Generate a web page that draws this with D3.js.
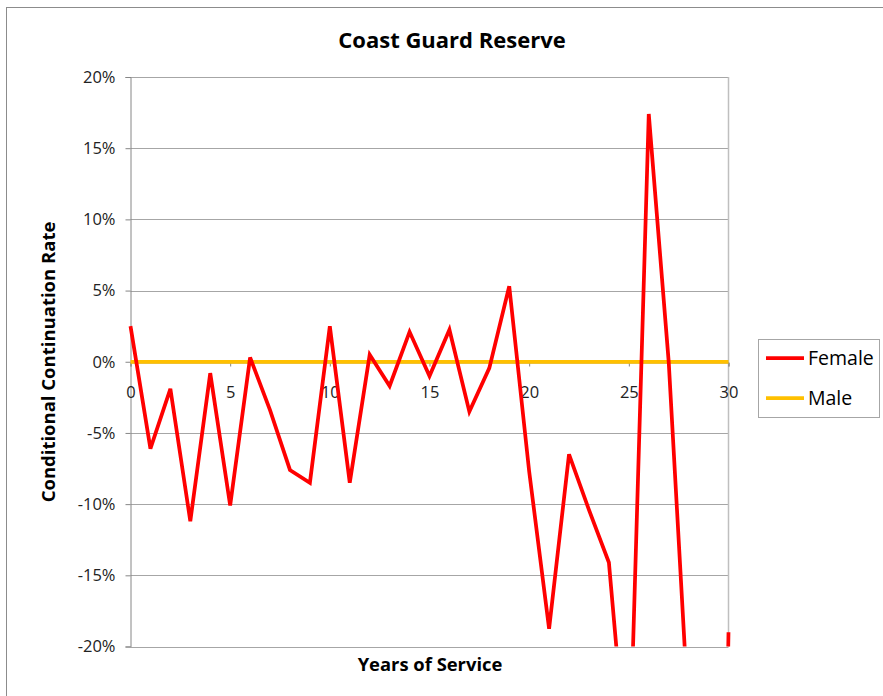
<!DOCTYPE html>
<html>
<head>
<meta charset="utf-8">
<script src="https://cdn.jsdelivr.net/npm/d3@7"></script>
<style>
  body { margin: 0; background: #fff; }
  svg { display: block; }
</style>
</head>
<body>
<svg id="chart" width="883" height="696"></svg>
<script>
const years = d3.range(0, 31);
const femaleValues = [2.5, -6.1, -1.9, -11.2, -0.8, -10.1, 0.3, -3.4, -7.6, -8.5,
  2.5, -8.5, 0.5, -1.7, 2.1, -1.0, 2.25, -3.5, -0.45, 5.3,
  -7.7, -18.75, -6.5, -10.4, -14.1, -30, 17.4, 0, -25, -100, -19];
const maleValues = years.map(() => 0);
const yTicks = [-20, -15, -10, -5, 0, 5, 10, 15, 20];
const xTicks = [0, 5, 10, 15, 20, 25, 30];
const seriesNames = ["Female", "Male"];
const seriesColors = ["#FF0000", "#FFC000"];

(function () {
const svg = d3.select("#chart");
const font = "'Open Sans', 'Noto Sans', sans-serif";

// chart border
svg.append("rect").attr("x", 6.5).attr("y", 7.5).attr("width", 900).attr("height", 720)
  .attr("fill", "none").attr("stroke", "#8c8c8c").attr("stroke-width", 1);

const pL = 130.5, pR = 728.5, pT = 77, pB = 646.5;
const x = d3.scaleLinear().domain([0, 30]).range([pL, pR]);
const y = d3.scaleLinear().domain([-20, 20]).range([pB, pT]);

// gridlines
svg.append("g").selectAll("line").data(yTicks).join("line")
  .attr("x1", pL).attr("x2", pR)
  .attr("y1", d => Math.round(y(d)) + 0.5).attr("y2", d => Math.round(y(d)) + 0.5)
  .attr("stroke", "#a6a6a6").attr("stroke-width", 1);

// right border of plot area
svg.append("line").attr("x1", pR).attr("x2", pR).attr("y1", pT).attr("y2", pB)
  .attr("stroke", "#bfbfbf").attr("stroke-width", 1.5);

// y axis
const yAxis = d3.axisLeft(y).tickValues(yTicks).tickSize(5).tickFormat(d => d + "%");
const yg = svg.append("g").attr("transform", `translate(${pL},0)`).call(yAxis);
yg.select(".domain").attr("stroke", "#868686");
yg.selectAll(".tick line").attr("stroke", "#868686");
yg.selectAll(".tick text").attr("font-family", font).attr("font-size", 16.5)
  .attr("fill", "#222").attr("x", -15);

// x axis at 0%
const xAxis = d3.axisBottom(x).tickValues(xTicks).tickSize(4).tickFormat(d3.format("d"));
const xg = svg.append("g").attr("transform", `translate(0,${Math.round(y(0)) + 0.5})`).call(xAxis);
xg.select(".domain").attr("stroke", "#868686");
xg.selectAll(".tick line").attr("stroke", "#868686");
xg.selectAll(".tick text").attr("font-family", font).attr("font-size", 16.5)
  .attr("fill", "#222").attr("y", 24);

// clip
svg.append("clipPath").attr("id", "clip").append("rect")
  .attr("x", pL - 3).attr("y", pT).attr("width", pR - pL + 6).attr("height", pB - pT);

const line = d3.line().x((d, i) => x(years[i])).y(d => y(d));
const plot = svg.append("g").attr("clip-path", "url(#clip)");
plot.append("path").datum(maleValues).attr("d", line)
  .attr("fill", "none").attr("stroke", seriesColors[1]).attr("stroke-width", 3.75);
plot.append("path").datum(femaleValues).attr("d", line)
  .attr("fill", "none").attr("stroke", seriesColors[0]).attr("stroke-width", 3.75)
  .attr("stroke-linejoin", "miter");

// title
svg.append("text").attr("x", 452).attr("y", 48).attr("text-anchor", "middle")
  .attr("font-family", font).attr("font-weight", "bold").attr("font-size", 22)
  .attr("fill", "#000").text("Coast Guard Reserve");

// axis titles
svg.append("text").attr("x", 430).attr("y", 671).attr("text-anchor", "middle")
  .attr("font-family", font).attr("font-weight", "bold").attr("font-size", 18.4)
  .attr("fill", "#000").text("Years of Service");
svg.append("text").attr("transform", "translate(55,362) rotate(-90)").attr("text-anchor", "middle")
  .attr("font-family", font).attr("font-weight", "bold").attr("font-size", 18.5)
  .attr("fill", "#000").text("Conditional Continuation Rate");

// legend
const lg = svg.append("g");
lg.append("rect").attr("x", 758.5).attr("y", 339.5).attr("width", 121).attr("height", 78)
  .attr("fill", "#fff").attr("stroke", "#a6a6a6");
seriesNames.forEach((name, i) => {
  const ly = 358 + i * 40;
  lg.append("line").attr("x1", 766).attr("x2", 804).attr("y1", ly).attr("y2", ly)
    .attr("stroke", seriesColors[i]).attr("stroke-width", 3.75);
  lg.append("text").attr("x", 808).attr("y", ly + 7).attr("font-family", font)
    .attr("font-size", 19.5).attr("fill", "#000").text(name);
});
})();
</script>
</body>
</html>
